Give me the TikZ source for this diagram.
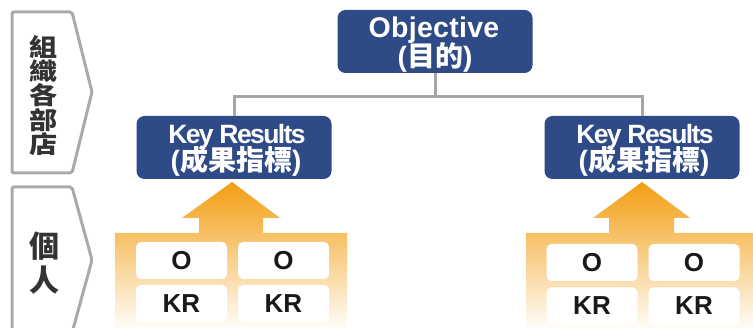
\documentclass[tikz,border=0pt]{standalone}
\usepackage{fontspec}
\setmainfont{Liberation Sans}
\newfontfamily\cjk{Noto Sans CJK TC}
\definecolor{navy}{RGB}{46,74,135}
\definecolor{conngray}{RGB}{166,166,166}
\definecolor{chevgray}{RGB}{170,170,170}
\definecolor{txtdark}{RGB}{51,51,51}
\definecolor{orangetop}{RGB}{242,158,18}
\newcommand{\krone}{{\fontsize{26.5}{26}\selectfont\bfseries\addfontfeatures{LetterSpace=-6}Key Results}}
\newcommand{\krtwo}{{\fontsize{28}{28}\selectfont\bfseries(\cjk\bfseries 成果指標\rmfamily\bfseries)}}
\begin{document}
\begin{tikzpicture}[x=1pt,y=-1pt,
  bluebox/.style={fill=navy,rounded corners=8pt,minimum width=195pt,minimum height=63pt,inner sep=0pt},
  boxtext/.style={text=white,anchor=base,inner sep=0pt},
  upper/.style={text depth=0pt},
  lower/.style={text height=19pt},
  conn/.style={draw=conngray,line width=3pt},
  chev/.style={draw=chevgray,line width=3pt,rounded corners=2pt,fill=white},
  whitebox/.style={fill=white,rounded corners=5pt,minimum width=91pt,minimum height=37pt,inner sep=0pt,font=\fontsize{26}{26}\selectfont\bfseries,text=black!90},
  orangearrow/.style={top color=orangetop,bottom color=white,draw=none},
  sidelabel/.style={text=txtdark,align=center,inner sep=0pt}
]
\useasboundingbox (0,0) rectangle (753,328);
\clip (0,0) rectangle (753,328);

% left chevrons
\draw[chev] (12,12) -- (72,12) -- (92,92) -- (72,173) -- (12,173) -- cycle;
\draw[chev] (12,187) -- (72,187) -- (92,260) -- (72,333) -- (12,333) -- cycle;
\node[sidelabel] (lab1) at (44,96) {\scalebox{1.04}[0.9]{\begin{tabular}{@{}c@{}}\fontsize{27}{28.5}\selectfont\cjk\bfseries 組\\\fontsize{27}{28.5}\selectfont\cjk\bfseries 織\\\fontsize{27}{28.5}\selectfont\cjk\bfseries 各\\\fontsize{27}{28.5}\selectfont\cjk\bfseries 部\\\fontsize{27}{28.5}\selectfont\cjk\bfseries 店\end{tabular}}};
\node[sidelabel,font={\fontsize{30}{34}\selectfont\cjk\bfseries}] (lab2) at (44,263) {個\\人};

% blue boxes
\node[bluebox] (obj) at (435,41.5) {};
\node[boxtext,upper] (objt1) at (434,38) {\fontsize{28.5}{28}\selectfont\bfseries\addfontfeatures{LetterSpace=1}Objective};
\node[boxtext,lower] (objt2) at (435,66.5) {\fontsize{28}{28}\selectfont\bfseries(\cjk\bfseries 目的\rmfamily\bfseries)};
\node[bluebox] (kr1) at (234,147.5) {};
\node[boxtext,upper] (kr1t1) at (237,144) {\krone};
\node[boxtext,lower] (kr1t2) at (236,171) {\krtwo};
\node[bluebox] (kr2) at (642,147.5) {};
\node[boxtext,upper] (kr2t1) at (645,144) {\krone};
\node[boxtext,lower] (kr2t2) at (644,171) {\krtwo};

% connectors
\coordinate (bar) at (435,97);
\draw[conn] (obj.south) -- (obj.south |- bar);
\draw[conn] (kr1.north) -- (kr1.north |- bar) -- (kr2.north |- bar) -- (kr2.north);

% orange arrows
\path[orangearrow] (232,182) -- (280,218) -- (263,218) -- (263,233) -- (347,233) -- (347,332) -- (115,332) -- (115,233) -- (199,233) -- (199,218) -- (182,218) -- cycle;
\path[orangearrow] (642,182) -- (690,218) -- (674,218) -- (674,233) -- (760,233) -- (760,332) -- (526,332) -- (526,233) -- (609,233) -- (609,218) -- (593,218) -- cycle;

% white boxes
\node[whitebox] (o11) at (181.5,260.5) {O};
\node[whitebox] (o12) at (283.5,260.5) {O};
\node[whitebox] (k11) at (181.5,303.5) {KR};
\node[whitebox] (k12) at (283.5,303.5) {KR};
\node[whitebox] (o21) at (592,262.5) {O};
\node[whitebox] (o22) at (694,262.5) {O};
\node[whitebox] (k21) at (592,306) {KR};
\node[whitebox] (k22) at (694,306) {KR};
\end{tikzpicture}
\end{document}
